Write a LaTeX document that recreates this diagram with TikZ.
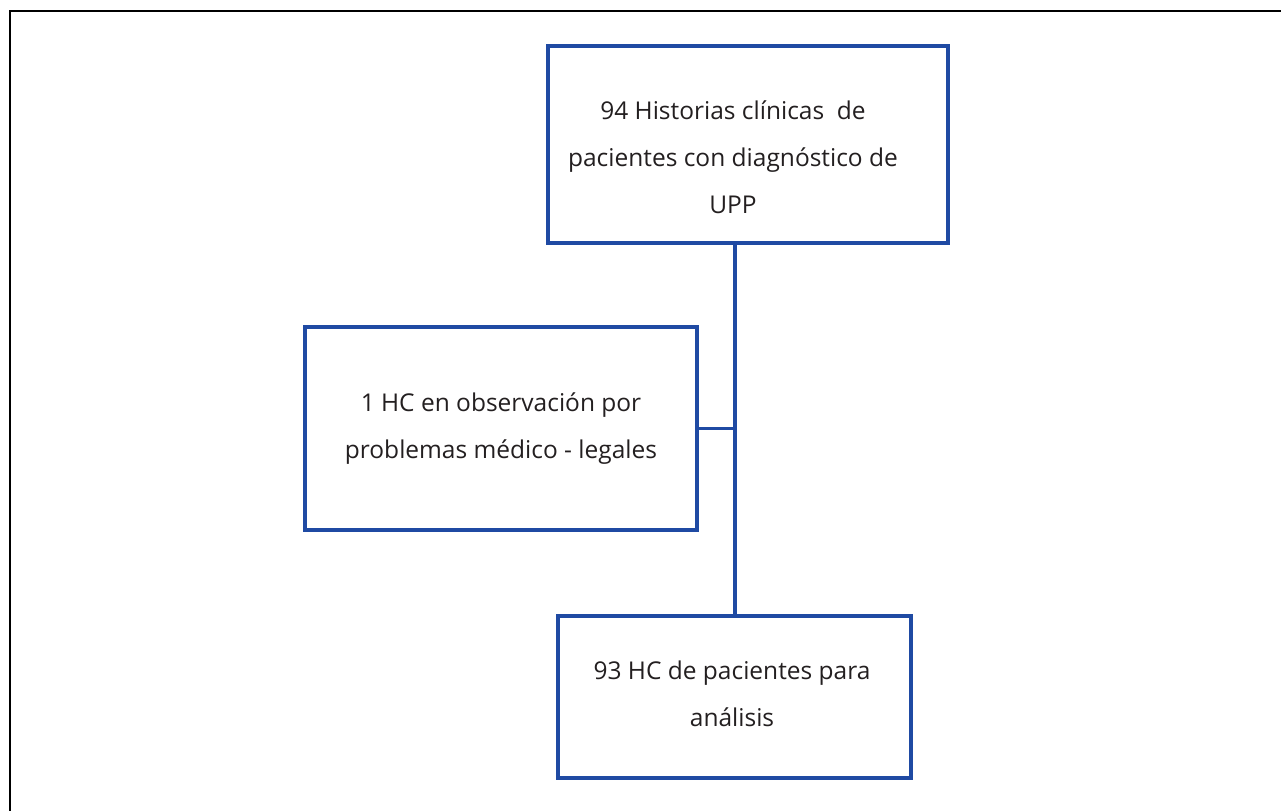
\documentclass[tikz,border=0pt]{standalone}
\usepackage{fontspec}
\setmainfont{Open Sans}
\definecolor{boxblue}{HTML}{1F4AA3}
\definecolor{txtgray}{HTML}{231F20}
\begin{document}
\begin{tikzpicture}[x=1pt,y=-1pt,
  box/.style={draw=boxblue,line width=3.5pt,minimum width=#1,inner sep=0pt},
  txt/.style={align=center,text=txtgray,inner sep=0pt,font=\fontsize{24.5}{47}\selectfont},
  link/.style={draw=boxblue,line width=3.5pt}]
\useasboundingbox (0,0) rectangle (1281,811);
\draw[line width=2pt,black] (1281,11) -- (10,11) -- (10,811);
\node[box=400pt,minimum height=197pt] (b1) at (748,144.5) {};
\node[box=392pt,minimum height=203pt] (b2) at (501,428.5) {};
\node[box=353pt,minimum height=162pt] (b3) at (734.5,697) {};
\node[txt] (t1) at (733,157) {94 Historias clínicas\ \ de\\pacientes con diagnóstico de\\UPP};
\node[txt] (t2) at (501,428.5) {1 HC en observación por\\problemas médico - legales};
\node[txt] (t3) at (732,693.5) {93 HC de pacientes para\\análisis};
\coordinate (top) at (735,0 |- b1.south);
\coordinate (bot) at (top |- b3.north);
\coordinate (j) at (top |- b2.east);
\draw[link] (top) -- (bot);
\draw[link] (b2.east) -- (j);
\end{tikzpicture}
\end{document}
